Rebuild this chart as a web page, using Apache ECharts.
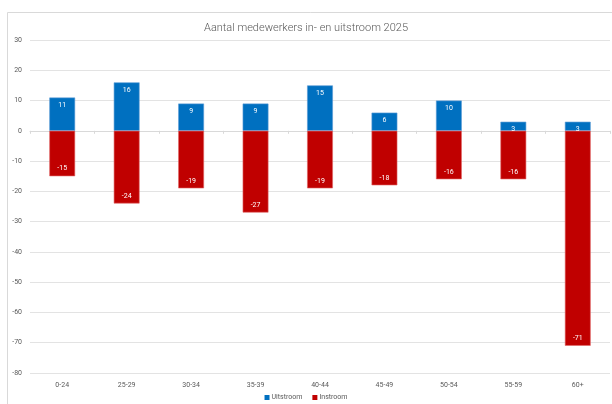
<!DOCTYPE html>
<html>
<head>
<meta charset="utf-8">
<script src="https://cdn.jsdelivr.net/npm/echarts@6/dist/echarts.min.js"></script>
<style>
  html, body { margin: 0; padding: 0; background: #fff; }
  #chart { width: 612px; height: 404px; }
</style>
</head>
<body>
<div id="chart"></div>
<script>
// Age groups and head counts per group
const ageGroups = ['0-24', '25-29', '30-34', '35-39', '40-44', '45-49', '50-54', '55-59', '60+'];
const uitstroom = [11, 16, 9, 9, 15, 6, 10, 3, 3];
const instroom = [-15, -24, -19, -27, -19, -18, -16, -16, -71];
const yTicks = { min: -80, max: 30, step: 10 };

const textGrey = '#595959';
const font = 'Roboto, "Liberation Sans", sans-serif';

const chart = echarts.init(document.getElementById('chart'), null, { renderer: 'canvas' });

chart.setOption({
  backgroundColor: '#fff',
  animation: false,
  textStyle: { fontFamily: font },
  title: {
    text: 'Aantal medewerkers in- en uitstroom 2025',
    left: 'center',
    top: 18,
    textStyle: { fontFamily: font, fontSize: 11, fontWeight: 300, color: textGrey }
  },
  graphic: [{
    type: 'rect',
    shape: { x: 7.5, y: 12.5, width: 620, height: 420 },
    style: { fill: 'none', stroke: '#d9d9d9', lineWidth: 1 },
    silent: true
  }],
  legend: {
    data: ['Uitstroom', 'Instroom'],
    bottom: -2,
    left: 'center',
    itemWidth: 5,
    itemHeight: 5,
    itemGap: 10,
    itemStyle: { borderWidth: 0 },
    textStyle: { fontSize: 7, color: textGrey, fontFamily: font, padding: [0, 0, 0, -3] },
    icon: 'rect'
  },
  grid: { left: 30, right: 2, top: 40, bottom: 31, containLabel: false },
  xAxis: [{
    type: 'category',
    data: ageGroups,
    position: 'bottom',
    axisLine: { show: false, onZero: false },
    axisTick: { show: false },
    axisLabel: { fontSize: 7, color: textGrey, margin: 9 }
  }, {
    type: 'category',
    data: ageGroups,
    position: 'bottom',
    axisLine: { show: true, onZero: true, lineStyle: { color: '#d9d9d9', width: 1 } },
    axisTick: { show: true, length: 3, inside: false, lineStyle: { color: '#d9d9d9' } },
    axisLabel: { show: false }
  }],
  yAxis: {
    type: 'value',
    min: yTicks.min,
    max: yTicks.max,
    interval: yTicks.step,
    axisLine: { show: false },
    axisTick: { show: false },
    axisLabel: { fontSize: 7, color: textGrey, margin: 8 },
    splitLine: { lineStyle: { color: '#e3e3e3', width: 1 } }
  },
  series: [{
    name: 'Uitstroom',
    type: 'bar',
    stack: 'stroom',
    xAxisIndex: 0,
    data: uitstroom,
    barWidth: '40%',
    itemStyle: { color: '#0070C0', borderColor: '#5b9bd5', borderWidth: 0.6 },
    label: { show: true, position: 'insideTop', distance: 4, color: '#fff', fontSize: 7 }
  }, {
    name: 'Instroom',
    type: 'bar',
    stack: 'stroom',
    xAxisIndex: 0,
    data: instroom,
    barWidth: '40%',
    itemStyle: { color: '#C00000', borderColor: '#e06666', borderWidth: 0.6 },
    label: { show: true, position: 'insideBottom', distance: 4, color: '#fff', fontSize: 7 }
  }]
});
</script>
</body>
</html>
